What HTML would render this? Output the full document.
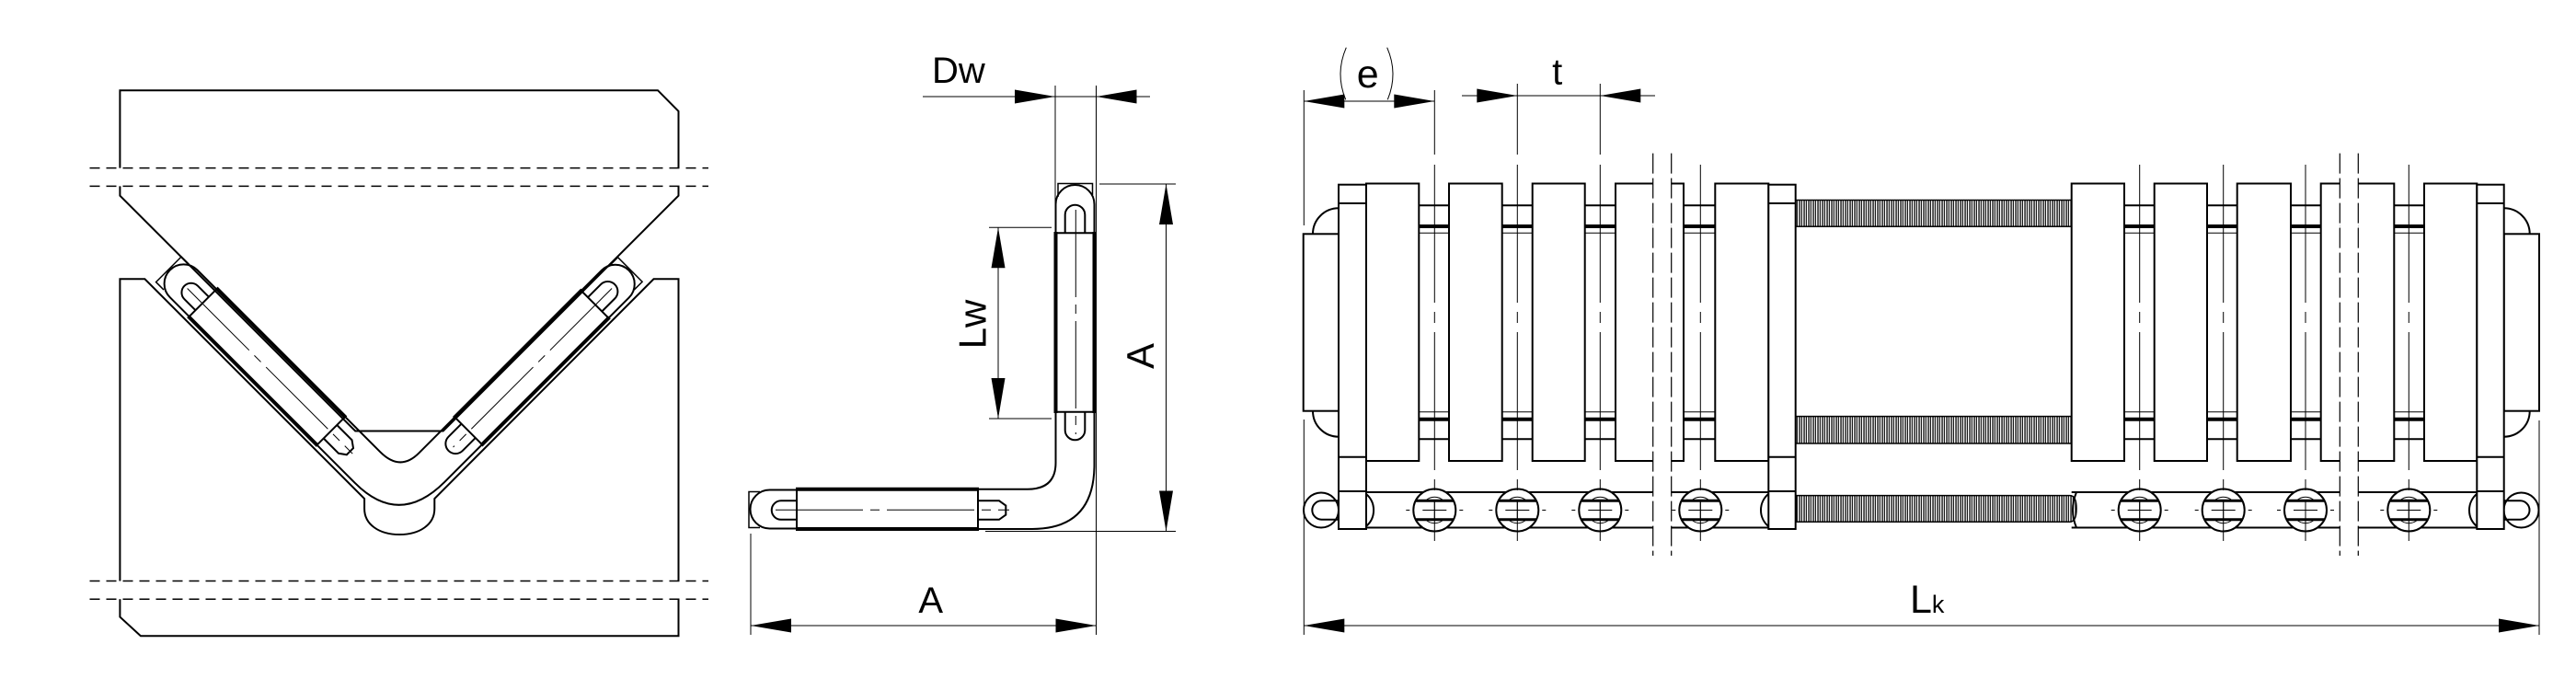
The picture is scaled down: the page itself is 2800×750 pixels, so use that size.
<!DOCTYPE html>
<html>
<head>
<meta charset="utf-8">
<style>
html,body{margin:0;padding:0;background:#fff;}
svg{display:block;}
.o{fill:none;stroke:#000;stroke-width:2;}
.w{fill:#fff;stroke:#000;stroke-width:2;}
.k1{fill:none;stroke:#000;stroke-width:1;}
.k15{fill:none;stroke:#000;stroke-width:1.5;}
.k3{fill:none;stroke:#000;stroke-width:3;}
.k4{fill:none;stroke:#000;stroke-width:4;}
.cl{fill:none;stroke:#000;stroke-width:1;stroke-dasharray:150 10 12 10;}
.cs{fill:none;stroke:#000;stroke-width:1;stroke-dasharray:95 8 10 8;}
.dl{fill:none;stroke:#000;stroke-width:1.2;stroke-dasharray:22 5;}
.dh{fill:none;stroke:#000;stroke-width:1.5;stroke-dasharray:11 7;}
.ar{fill:#000;stroke:none;}
text{font-family:"Liberation Sans",Arial,sans-serif;fill:#000;}
</style>
</head>
<body>
<svg width="2800" height="750" viewBox="0 0 2800 750" xmlns="http://www.w3.org/2000/svg">
<defs>
<pattern id="thr" x="0" y="0" width="5" height="100" patternUnits="userSpaceOnUse">
<rect x="0" y="0" width="5" height="100" fill="#fff"/>
<rect x="0.4" y="0" width="1.3" height="100" fill="#000"/>
<rect x="2.8" y="0" width="1.1" height="100" fill="#000"/>
</pattern>
</defs>

<!-- ================= LEFT FIGURE ================= -->
<path class="o" d="M130.4,182.6 V98.2 H715 L737.5,120.9 V182.6"/>
<path class="o" d="M130.4,202.4 V212.7 L386.2,468.5 H481.7 L737.5,212.7 V202.4"/>
<path class="o" d="M130.4,631.5 V303.3 H157.4 L396.1,542 V553 C396.1,570 412,581 434.2,581 C456.4,581 472.3,570 472.3,553 V542 L710.5,303.3 H737.5 V631.5"/>
<path class="o" d="M130.4,651.3 V670.6 L152.9,691.2 H737.5 V651.3"/>
<path class="dh" d="M97.5,182.6 H770 M97.5,202.4 H770 M97.5,631.5 H770 M97.5,651.3 H770"/>

<g transform="translate(434,576) rotate(45) translate(-1191.5,-577)">
 <path class="o" d="M1147.5,253.3 V222 A21,21 0 0 1 1189.5,222 V253.3"/>
 <path class="k15" d="M1150,214 V199.5 H1187.5 V212"/>
 <path class="o" d="M1157.7,253.3 V233.5 A10.8,10.8 0 0 1 1179.3,233.5 V253.3"/>
 <path class="o" d="M1157.7,447.7 V467.5 A10.8,10.8 0 0 0 1179.3,467.5 V447.7"/>
 <path class="o" d="M1147.5,253.3 H1189.5 M1147.5,447.7 H1189.5"/>
 <path class="k4" d="M1147.5,252 V449 M1189.5,252 V449"/>
 <path class="o" d="M1147.5,447.7 V503 Q1147.5,531.7 1117,531.7 H1063"/>
 <path class="o" d="M1189.5,447.7 V505 Q1189.5,575 1121.7,575 H1063"/>
 <path class="k4" d="M865,531.7 H1064 M865,575 H1064"/>
 <path class="o" d="M866,531.7 V575 M1063,531.7 V575"/>
 <path class="o" d="M866,532.5 H836.5 A21,21 0 0 0 836.5,574.5 H866"/>
 <path class="k15" d="M826,534.5 H814 V573.5 H826"/>
 <path class="o" d="M866,544.3 H849 A10.25,10.25 0 0 0 849,564.8 H866"/>
 <path class="o" d="M1063,544.3 H1086 L1093.3,549.5 V559.6 L1086,564.8 H1063"/>
 <path class="cs" d="M1169.3,228 V472"/>
 <path class="cs" d="M843,554.3 H1097"/>
</g>

<!-- ================= MIDDLE FIGURE ================= -->
<g>
 <path class="o" d="M1147.5,253.3 V222 A21,21 0 0 1 1189.5,222 V253.3"/>
 <path class="k15" d="M1150,214 V199.5 H1187.5 V212"/>
 <path class="o" d="M1157.7,253.3 V233.5 A10.8,10.8 0 0 1 1179.3,233.5 V253.3"/>
 <path class="o" d="M1157.7,447.7 V467.5 A10.8,10.8 0 0 0 1179.3,467.5 V447.7"/>
 <path class="o" d="M1147.5,253.3 H1189.5 M1147.5,447.7 H1189.5"/>
 <path class="k4" d="M1147.5,252 V449 M1189.5,252 V449"/>
 <path class="o" d="M1147.5,447.7 V503 Q1147.5,531.7 1117,531.7 H1063"/>
 <path class="o" d="M1189.5,447.7 V505 Q1189.5,575 1121.7,575 H1063"/>
 <path class="k4" d="M865,531.7 H1064 M865,575 H1064"/>
 <path class="o" d="M866,531.7 V575 M1063,531.7 V575"/>
 <path class="o" d="M866,532.5 H836.5 A21,21 0 0 0 836.5,574.5 H866"/>
 <path class="k15" d="M826,534.5 H814 V573.5 H826"/>
 <path class="o" d="M866,544.3 H849 A10.25,10.25 0 0 0 849,564.8 H866"/>
 <path class="o" d="M1063,544.3 H1086 L1093.3,549.5 V559.6 L1086,564.8 H1063"/>
 <path class="cs" d="M1169.3,228 V472"/>
 <path class="cs" d="M843,554.3 H1097"/>
</g>

<!-- middle dims -->
<path class="k1" d="M1147,93 V250 M1191.5,93 V690"/>
<path class="k1" d="M1003,105 H1250"/>
<polygon class="ar" points="1147,105 1103,97.5 1103,112.5"/>
<polygon class="ar" points="1191.5,105 1235.5,97.5 1235.5,112.5"/>
<text x="1013" y="90" font-size="40">Dw</text>

<path class="k1" d="M1075,247.3 H1143 M1075,455 H1143 M1085,247.3 V455"/>
<polygon class="ar" points="1085,247.3 1077.5,291.3 1092.5,291.3"/>
<polygon class="ar" points="1085,455 1077.5,411 1092.5,411"/>
<text transform="translate(1071.5,352.5) rotate(-90)" text-anchor="middle" font-size="42">Lw</text>

<path class="k1" d="M1195,200 H1278 M1071,577.5 H1278 M1267.5,200 V577.5"/>
<polygon class="ar" points="1267.5,200 1260,244 1275,244"/>
<polygon class="ar" points="1267.5,577.5 1260,533.5 1275,533.5"/>
<text transform="translate(1254,387) rotate(-90)" text-anchor="middle" font-size="42">A</text>

<path class="k1" d="M816,580 V690 M816,680 H1191.5"/>
<polygon class="ar" points="816,680 860,672.5 860,687.5"/>
<polygon class="ar" points="1191.5,680 1147.5,672.5 1147.5,687.5"/>
<text x="1011.7" y="666" text-anchor="middle" font-size="40">A</text>

<!-- ================= RIGHT FIGURE ================= -->
<!-- tube lines -->
<path class="o" d="M1485,223.3 H1796.7 M1816.7,223.3 H1922.3 M2251.7,223.3 H2543.3 M2563.3,223.3 H2692.3"/>
<path class="k4" d="M1485,246 H1796.7 M1816.7,246 H1922.3 M2251.7,246 H2543.3 M2563.3,246 H2692.3"/>
<path class="k1" d="M1485,253.3 H1796.7 M1816.7,253.3 H1922.3 M2251.7,253.3 H2543.3 M2563.3,253.3 H2692.3"/>
<path class="k1" d="M1485,447.7 H1796.7 M1816.7,447.7 H1922.3 M2251.7,447.7 H2543.3 M2563.3,447.7 H2692.3"/>
<path class="k4" d="M1485,455.7 H1796.7 M1816.7,455.7 H1922.3 M2251.7,455.7 H2543.3 M2563.3,455.7 H2692.3"/>
<path class="o" d="M1485,477.3 H1796.7 M1816.7,477.3 H1922.3 M2251.7,477.3 H2543.3 M2563.3,477.3 H2692.3"/>

<!-- threads -->
<rect x="1951.7" y="217.5" width="300" height="28.7" fill="url(#thr)" stroke="#000" stroke-width="1.5"/>
<rect x="1951.7" y="452.6" width="300" height="29.4" fill="url(#thr)" stroke="#000" stroke-width="1.5"/>

<!-- blocks -->
<rect class="w" x="1485" y="199.5" width="57.3" height="301.5"/>
<rect class="w" x="1575" y="199.5" width="57.7" height="301.5"/>
<rect class="w" x="1665.7" y="199.5" width="57" height="301.5"/>
<path class="w" d="M1796.7,199.5 H1756 V501 H1796.7"/>
<path class="w" d="M1816.7,199.5 H1830 V501 H1816.7"/>
<rect class="w" x="1864.3" y="199.5" width="58" height="301.5"/>
<rect class="w" x="2251.7" y="199.5" width="57.3" height="301.5"/>
<rect class="w" x="2341.7" y="199.5" width="57.3" height="301.5"/>
<rect class="w" x="2431.7" y="199.5" width="58.3" height="301.5"/>
<path class="w" d="M2543.3,199.5 H2522.7 V501 H2543.3"/>
<path class="w" d="M2563.3,199.5 H2602.3 V501 H2563.3"/>
<rect class="w" x="2635" y="199.5" width="57.3" height="301.5"/>

<!-- domes & end caps -->
<path class="o" d="M1455,226.3 A28,28 0 0 0 1427,254.3 M1427,446.7 A28,28 0 0 0 1455,474.7"/>
<path class="o" d="M2721.7,226.3 A28,28 0 0 1 2749.7,254.3 M2749.7,446.7 A28,28 0 0 1 2721.7,474.7"/>
<rect class="w" x="1416.7" y="254.3" width="38.3" height="192.4"/>
<rect class="w" x="2721.7" y="254.3" width="38.3" height="192.4"/>

<!-- chain band -->
<path class="o" d="M1485,535 H1796.7 M1816.7,535 H1922.3 M2251.7,535 H2543.3 M2563.3,535 H2692.3"/>
<path class="o" d="M1485,573.5 H1796.7 M1816.7,573.5 H1922.3 M2251.7,573.5 H2543.3 M2563.3,573.5 H2692.3"/>
<path d="M1952.6,538.6 H2250 Q2257,538.6 2257,552.9 Q2257,567.2 2250,567.2 H1952.6 Z" fill="url(#thr)" stroke="#000" stroke-width="1.5"/>
<path class="o" d="M2257,535 Q2249,554.5 2257,573.5"/>
<path class="o" d="M1485,537 A23,23 0 0 1 1485,572"/>
<path class="o" d="M1922.3,536.8 A23,23 0 0 0 1922.3,572.2"/>
<path class="o" d="M2692.3,536.8 A23,23 0 0 0 2692.3,572.2"/>
<circle class="w" cx="1436" cy="554.5" r="19"/>
<path class="o" d="M1455,544.3 H1436.5 A10.2,10.2 0 0 0 1436.5,564.7 H1455"/>
<circle class="w" cx="2740.5" cy="554.5" r="19"/>
<path class="o" d="M2721.7,544.3 H2739.3 A10.2,10.2 0 0 1 2739.3,564.7 H2721.7"/>

<!-- side plates -->
<rect class="w" x="1455" y="200.7" width="30" height="374.3"/>
<path class="o" d="M1455,221 H1485 M1455,496.7 H1485 M1455,534 H1485"/>
<rect class="w" x="1922.3" y="200.7" width="29.4" height="374.3"/>
<path class="o" d="M1922.3,221 H1951.7 M1922.3,496.7 H1951.7 M1922.3,534 H1951.7"/>
<rect class="w" x="2692.3" y="200.7" width="29.4" height="374.3"/>
<path class="o" d="M2692.3,221 H2721.7 M2692.3,496.7 H2721.7 M2692.3,534 H2721.7"/>

<!-- chain rollers -->
<g transform="translate(1559.3,554.5)"><circle class="w" r="23"/><path class="k3" d="M-20.6,-10.2 H20.6 M-20.6,10.2 H20.6"/><path class="k1" d="M-9.8,-10.2 A14,14 0 0 1 9.8,-10.2 M-9.8,10.2 A14,14 0 0 0 9.8,10.2 M-13,0 H13 M0,-9 V9 M-31,0 H-27 M27,0 H31"/></g>
<g transform="translate(1649.3,554.5)"><circle class="w" r="23"/><path class="k3" d="M-20.6,-10.2 H20.6 M-20.6,10.2 H20.6"/><path class="k1" d="M-9.8,-10.2 A14,14 0 0 1 9.8,-10.2 M-9.8,10.2 A14,14 0 0 0 9.8,10.2 M-13,0 H13 M0,-9 V9 M-31,0 H-27 M27,0 H31"/></g>
<g transform="translate(1739.3,554.5)"><circle class="w" r="23"/><path class="k3" d="M-20.6,-10.2 H20.6 M-20.6,10.2 H20.6"/><path class="k1" d="M-9.8,-10.2 A14,14 0 0 1 9.8,-10.2 M-9.8,10.2 A14,14 0 0 0 9.8,10.2 M-13,0 H13 M0,-9 V9 M-31,0 H-27 M27,0 H31"/></g>
<g transform="translate(1848.3,554.5)"><circle class="w" r="23"/><path class="k3" d="M-20.6,-10.2 H20.6 M-20.6,10.2 H20.6"/><path class="k1" d="M-9.8,-10.2 A14,14 0 0 1 9.8,-10.2 M-9.8,10.2 A14,14 0 0 0 9.8,10.2 M-13,0 H13 M0,-9 V9 M-31,0 H-27 M27,0 H31"/></g>
<g transform="translate(2325.7,554.5)"><circle class="w" r="23"/><path class="k3" d="M-20.6,-10.2 H20.6 M-20.6,10.2 H20.6"/><path class="k1" d="M-9.8,-10.2 A14,14 0 0 1 9.8,-10.2 M-9.8,10.2 A14,14 0 0 0 9.8,10.2 M-13,0 H13 M0,-9 V9 M-31,0 H-27 M27,0 H31"/></g>
<g transform="translate(2416.7,554.5)"><circle class="w" r="23"/><path class="k3" d="M-20.6,-10.2 H20.6 M-20.6,10.2 H20.6"/><path class="k1" d="M-9.8,-10.2 A14,14 0 0 1 9.8,-10.2 M-9.8,10.2 A14,14 0 0 0 9.8,10.2 M-13,0 H13 M0,-9 V9 M-31,0 H-27 M27,0 H31"/></g>
<g transform="translate(2506,554.5)"><circle class="w" r="23"/><path class="k3" d="M-20.6,-10.2 H20.6 M-20.6,10.2 H20.6"/><path class="k1" d="M-9.8,-10.2 A14,14 0 0 1 9.8,-10.2 M-9.8,10.2 A14,14 0 0 0 9.8,10.2 M-13,0 H13 M0,-9 V9 M-31,0 H-27 M27,0 H31"/></g>
<g transform="translate(2618.3,554.5)"><circle class="w" r="23"/><path class="k3" d="M-20.6,-10.2 H20.6 M-20.6,10.2 H20.6"/><path class="k1" d="M-9.8,-10.2 A14,14 0 0 1 9.8,-10.2 M-9.8,10.2 A14,14 0 0 0 9.8,10.2 M-13,0 H13 M0,-9 V9 M-31,0 H-27 M27,0 H31"/></g>

<!-- centerlines -->
<path class="cl" d="M1559.3,179 V588 M1649.3,179 V588 M1739.3,179 V588 M1848.3,179 V588 M2325.7,179 V588 M2416.7,179 V588 M2506,179 V588 M2618.3,179 V588"/>
<path class="k1" d="M1559.3,98 V168 M1649.3,91 V168 M1739.3,91 V168"/>

<!-- break lines -->
<path class="dl" d="M1796.7,166.6 V604 M1816.7,166.6 V604 M2543.3,166.6 V604 M2563.3,166.6 V604"/>

<!-- right dims -->
<path class="k1" d="M1417.3,98 V245 M1417.3,456 V690 M2760,457 V690"/>
<path class="k1" d="M1417.3,110 H1559.3"/>
<polygon class="ar" points="1417.3,110 1461.3,102.5 1461.3,117.5"/>
<polygon class="ar" points="1559.3,110 1515.3,102.5 1515.3,117.5"/>
<path class="k1" d="M1463.3,51.7 Q1451,80 1462.7,108.3 M1507.7,51.7 Q1520,80 1508.3,108.3"/>
<text x="1486.7" y="95" text-anchor="middle" font-size="43">e</text>

<path class="k1" d="M1589,104 H1799"/>
<polygon class="ar" points="1649.3,104 1605.3,96.5 1605.3,111.5"/>
<polygon class="ar" points="1739.3,104 1783.3,96.5 1783.3,111.5"/>
<text x="1692.7" y="91.7" text-anchor="middle" font-size="40">t</text>

<path class="k1" d="M1417.3,680 H2760"/>
<polygon class="ar" points="1417.3,680 1461.3,672.5 1461.3,687.5"/>
<polygon class="ar" points="2760,680 2716,672.5 2716,687.5"/>
<text x="2076" y="666" font-size="43">L<tspan font-size="27">k</tspan></text>

</svg>
</body>
</html>
